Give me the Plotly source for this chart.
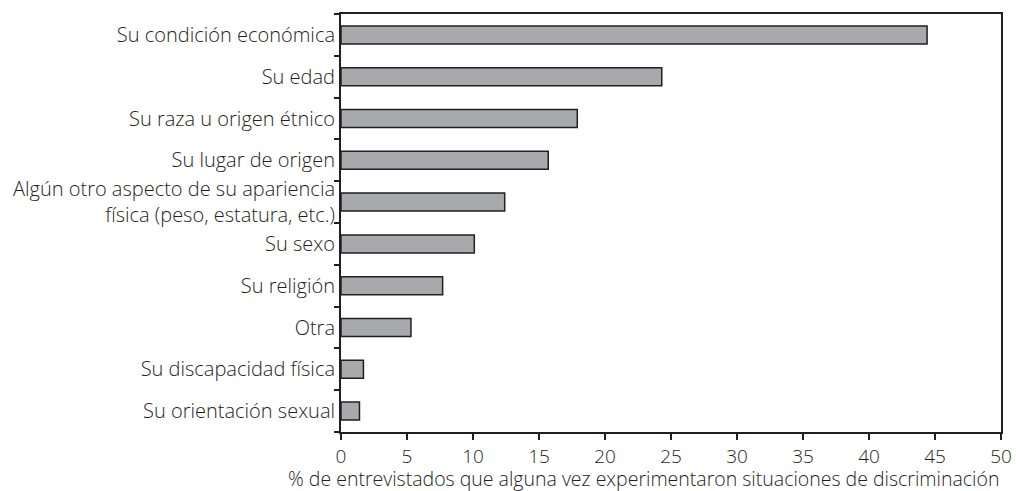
import plotly.graph_objects as go

categories = [
    "Su condición económica",
    "Su edad",
    "Su raza u origen étnico",
    "Su lugar de origen",
    "Algún otro aspecto de su apariencia<br>física (peso, estatura, etc.)",
    "Su sexo",
    "Su religión",
    "Otra",
    "Su discapacidad física",
    "Su orientación sexual",
]
values = [44.4, 24.3, 17.9, 15.7, 12.4, 10.1, 7.7, 5.3, 1.7, 1.4]
x_ticks = [0, 5, 10, 15, 20, 25, 30, 35, 40, 45, 50]
x_title = "% de entrevistados que alguna vez experimentaron situaciones de discriminación"
chart_title = "(respuesta múltiple, en porcentajes)"

INK = "#231f20"
FONT = "Open Sans"
LABEL = dict(size=20, family=FONT, color=INK, weight=300)
TICK_FONT = dict(size=19, family=FONT, color=INK, weight=300)
TITLE_FONT = dict(size=19.5, family=FONT, color=INK, weight=300)

fig = go.Figure(
    go.Bar(
        x=values,
        y=categories,
        orientation="h",
        width=0.43,
        marker=dict(color="#a7a9ac", line=dict(color=INK, width=1.5)),
    )
)

fig.update_layout(
    width=1016,
    height=491,
    margin=dict(l=341, r=15, t=14, b=59, autoexpand=False),
    paper_bgcolor="white",
    plot_bgcolor="white",
    showlegend=False,
    font=dict(family=FONT, color=INK, size=20),
    xaxis=dict(
        range=[0, 50],
        tickvals=x_ticks,
        ticktext=[str(v) for v in x_ticks],
        ticks="outside",
        ticklen=6,
        tickwidth=1.5,
        tickcolor=INK,
        showline=True,
        linecolor=INK,
        linewidth=2,
        mirror=True,
        showgrid=False,
        zeroline=False,
        automargin=False,
        tickfont=TICK_FONT,
    ),
    yaxis=dict(
        categoryorder="array",
        categoryarray=categories[::-1],
        autorange=False,
        range=[-0.5, len(categories) - 0.5],
        ticks="outside",
        tickson="boundaries",
        ticklen=5,
        tickwidth=1.5,
        tickcolor=INK,
        showline=True,
        linecolor=INK,
        linewidth=2,
        mirror=True,
        showgrid=False,
        zeroline=False,
        automargin=False,
        tickfont=LABEL,
    ),
)

fig.add_annotation(
    text=x_title,
    xref="paper",
    yref="paper",
    x=1.0,
    y=0.0,
    xanchor="right",
    yanchor="middle",
    yshift=-46,
    showarrow=False,
    font=TITLE_FONT,
)

fig.add_annotation(
    text="<b>" + chart_title + "</b>",
    xref="paper",
    yref="paper",
    x=0.29,
    y=1.0,
    xanchor="center",
    yanchor="bottom",
    yshift=12,
    showarrow=False,
    font=dict(size=20, family=FONT, color=INK),
)

fig.write_html(
    "out.html",
    config={"displayModeBar": False},
    post_script="document.body.style.margin='0';document.body.style.padding='0';",
)
